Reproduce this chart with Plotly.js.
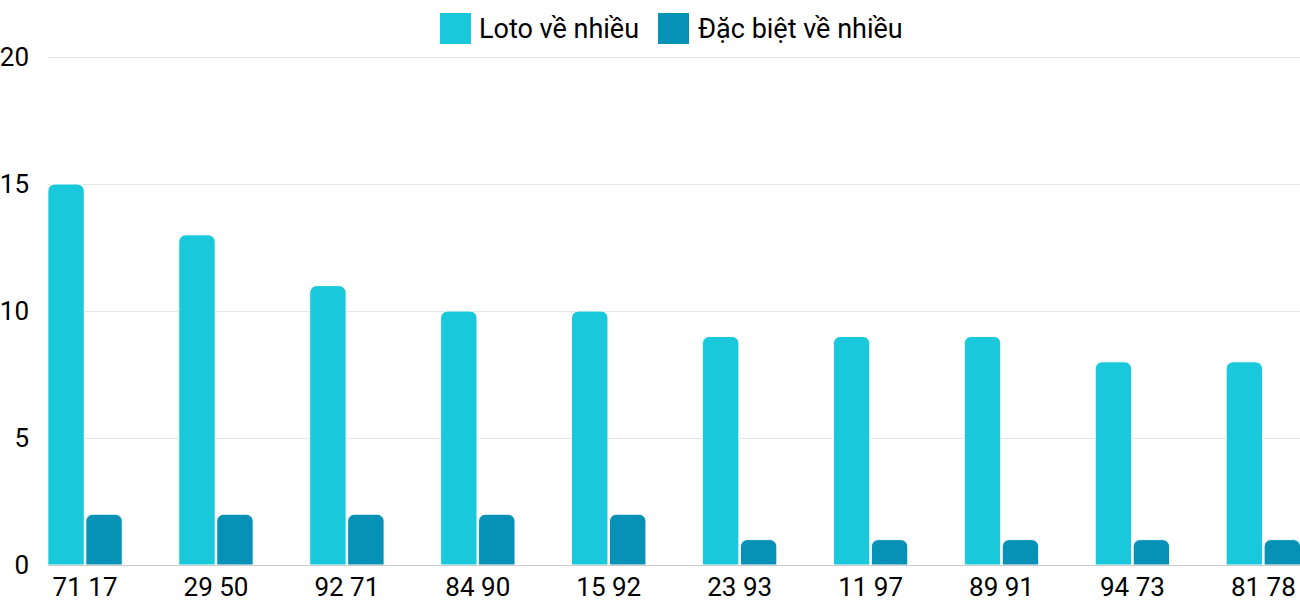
<!DOCTYPE html>
<html>
<head>
<meta charset="utf-8">
<script src="https://cdn.plot.ly/plotly-3.0.1.min.js"></script>
<style>
  html, body { margin: 0; padding: 0; background: #fff; }
  #chart { width: 1300px; height: 600px; }
</style>
</head>
<body>
<div id="chart"></div>
<script>
// data
var categories = ['71 17', '29 50', '92 71', '84 90', '15 92', '23 93', '11 97', '89 91', '94 73', '81 78'];
var lotoValues = [15, 13, 11, 10, 10, 9, 9, 9, 8, 8];
var dacBietValues = [2, 2, 2, 2, 2, 1, 1, 1, 1, 1];
var seriesNames = ['Loto về nhiều', 'Đặc biệt về nhiều'];
var seriesColors = ['#1ac8dc', '#0592b6'];
var yTicks = [0, 5, 10, 15, 20];

var W = 1300, H = 600;
var M = { l: 48, r: 0, t: 56, b: 35 };
var plotW = W - M.l - M.r, plotH = H - M.t - M.b;

// helpers to place the custom legend in pixels
function px(x) { return (x - M.l) / plotW; }
function py(y) { return (H - M.b - y) / plotH; }

var font = { family: 'Roboto, sans-serif', size: 26, color: '#000' };
var legendFont = { family: 'Roboto, sans-serif', size: 27, color: '#000' };

var traces = [
  { x: categories, y: lotoValues, name: seriesNames[0] },
  { x: categories, y: dacBietValues, name: seriesNames[1] }
].map(function (t, i) {
  t.type = 'bar';
  t.marker = { color: seriesColors[i], cornerradius: 7, line: { color: '#fff', width: 1 } };
  t.showlegend = false;
  return t;
});

// legend drawn by hand so the swatches can be as large as the original
var legendItems = [
  { sx: 440, tx: 477 },
  { sx: 658, tx: 696 }
];
var shapes = [], annotations = [];
legendItems.forEach(function (it, i) {
  shapes.push({
    type: 'rect', xref: 'paper', yref: 'paper',
    x0: px(it.sx), x1: px(it.sx + 31), y0: py(44), y1: py(13),
    fillcolor: seriesColors[i], line: { width: 0 }
  });
  annotations.push({
    xref: 'paper', yref: 'paper', x: px(it.tx), y: py(29),
    xanchor: 'left', yanchor: 'middle', showarrow: false,
    text: seriesNames[i], font: legendFont
  });
});

var layout = {
  width: W, height: H,
  margin: M,
  paper_bgcolor: '#fff', plot_bgcolor: '#fff',
  font: font,
  barmode: 'group',
  bargap: 0.42,
  bargroupgap: 0.04,
  showlegend: false,
  xaxis: {
    type: 'category',
    range: [-0.283, 9.28],
    showgrid: false,
    showline: false,
    ticks: '',
    ticklabelstandoff: 4,
    tickfont: font,
    fixedrange: true
  },
  yaxis: {
    range: [0, 20.04],
    tickvals: yTicks,
    showgrid: true,
    gridcolor: '#e6e6e6',
    gridwidth: 1,
    zeroline: true,
    zerolinecolor: '#cccccc',
    zerolinewidth: 1,
    ticks: '',
    ticklabelstandoff: 18,
    tickfont: font,
    fixedrange: true
  },
  shapes: shapes,
  annotations: annotations
};

Plotly.newPlot('chart', traces, layout, { displayModeBar: false, staticPlot: true });
</script>
</body>
</html>
